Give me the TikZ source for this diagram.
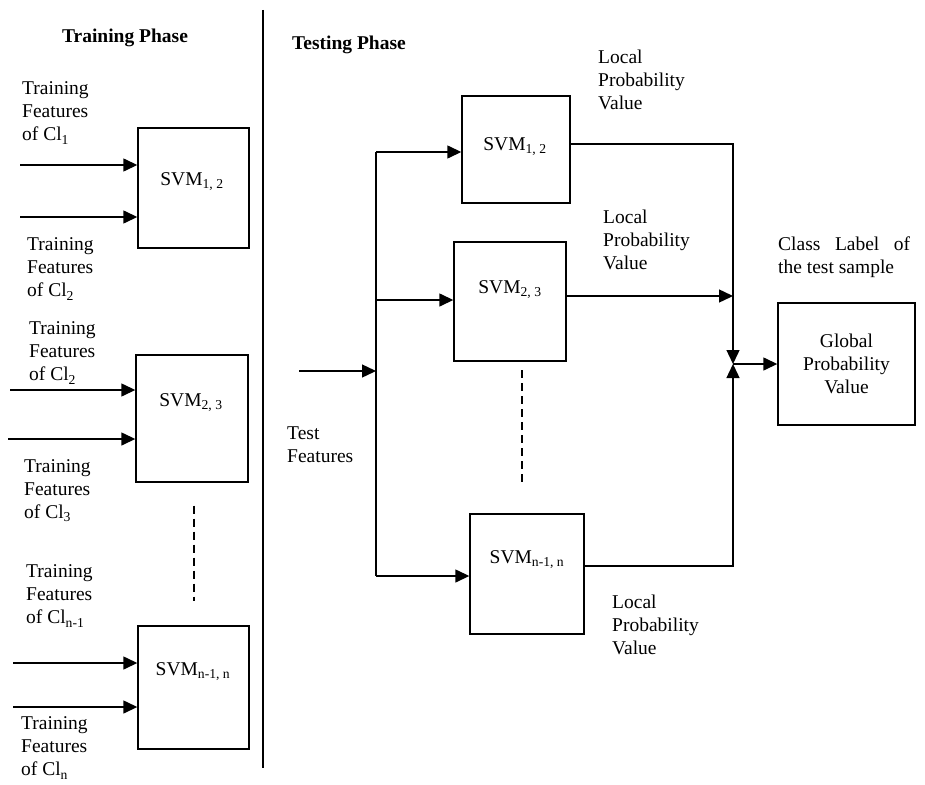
\documentclass[tikz,border=0pt]{standalone}
\usepackage{fontspec}
\setmainfont{Liberation Serif}
\usetikzlibrary{arrows.meta}
\tikzset{
  svmbox/.style={draw, line width=1.4pt, inner sep=0pt},
  lbl/.style={align=left, anchor=west, inner sep=0pt},
  ln/.style={line width=1.4pt},
  arr/.style={ln, -{Triangle[length=14pt,width=13pt]}},
  elide/.style={line width=1.2pt, dash pattern=on 8pt off 5pt}
}

\begin{document}
\begin{tikzpicture}[x=1pt, y=-1pt, font=\fontsize{19.5}{23}\selectfont]
  \useasboundingbox (0,0) rectangle (925,784);
  \node (trph) at (125,38) {\bfseries Training Phase};
  \node[lbl] (teph) at (292,45) {\bfseries Testing Phase};
  \draw[ln] (263,10) -- (263,768);

  \node[svmbox, minimum width=111pt, minimum height=120pt] (trA) at (193.5,188) {};
  \node[svmbox, minimum width=112pt, minimum height=127pt] (trB) at (192,418.5) {};
  \node[svmbox, minimum width=111pt, minimum height=123pt] (trC) at (193.5,687.5) {};
  \node (trAt) at (192,182) {SVM\textsubscript{1, 2}};
  \node (trBt) at (191,403) {SVM\textsubscript{2, 3}};
  \node (trCt) at (193,672) {SVM\textsubscript{n-1, n}};

  \node[lbl] (fA) at (22,113) {Training\\Features\\of Cl\textsubscript{1}};
  \node[lbl] (fB) at (27,269) {Training\\Features\\of Cl\textsubscript{2}};
  \node[lbl] (fC) at (29,353) {Training\\Features\\of Cl\textsubscript{2}};
  \node[lbl] (fD) at (24,491) {Training\\Features\\of Cl\textsubscript{3}};
  \node[lbl] (fE) at (26,596) {Training\\Features\\of Cl\textsubscript{n-1}};
  \node[lbl] (fF) at (21,748) {Training\\Features\\of Cl\textsubscript{n}};

  \foreach \i/\b/\x/\y in {1/trA/20/165, 2/trA/20/217, 3/trB/10/390,
      4/trB/8/439, 5/trC/13/663, 6/trC/13/707} {
    \coordinate (in\i) at (\x,\y);
    \draw[arr] (in\i) -- (in\i -| \b.west);
  }
  \draw[elide] (trB.south -| 194,0) ++(0,23) -- ++(0,95);

  \node[svmbox, minimum width=108pt, minimum height=107pt] (teA) at (516,149.5) {};
  \node[svmbox, minimum width=112pt, minimum height=119pt] (teB) at (510,301.5) {};
  \node[svmbox, minimum width=114pt, minimum height=120pt] (teC) at (527,574) {};
  \node (teAt) at (515,147) {SVM\textsubscript{1, 2}};
  \node (teBt) at (510,290) {SVM\textsubscript{2, 3}};
  \node (teCt) at (527,560) {SVM\textsubscript{n-1, n}};
  \draw[elide] (522,370) -- (522,482);

  \node[lbl] (tf) at (287,445) {Test\\Features};
  \coordinate (tin) at (299,371);
  \coordinate (bt) at (376,152);
  \coordinate (bm) at (376,300);
  \coordinate (bb) at (376,576);
  \draw[ln] (bt) -- (bb);
  \draw[arr] (tin) -- (tin -| bt);
  \draw[arr] (bt) -- (bt -| teA.west);
  \draw[arr] (bm) -- (bm -| teB.west);
  \draw[arr] (bb) -- (bb -| teC.west);

  \node[lbl] (lpA) at (598,80) {Local\\Probability\\Value};
  \node[lbl] (lpB) at (603,240) {Local\\Probability\\Value};
  \node[lbl] (lpC) at (612,625) {Local\\Probability\\Value};

  \node[svmbox, minimum width=137pt, minimum height=122pt, align=center]
    (glob) at (846.5,364) {Global\\Probability\\Value};
  \node[lbl, text width=132pt, align=justify] (cls) at (778,257)
    {Class Label of the test sample};

  \coordinate (jn) at (733,364);
  \coordinate (oA) at (733,144);
  \coordinate (oB) at (733,296);
  \coordinate (oC) at (733,566);
  \draw[arr] (oA -| teA.east) -- (oA) -- (jn);
  \draw[arr] (oB -| teB.east) -- (oB);
  \draw[arr] (oC -| teC.east) -- (oC) -- (jn);
  \draw[arr] (jn) -- (jn -| glob.west);
\end{tikzpicture}
\end{document}
